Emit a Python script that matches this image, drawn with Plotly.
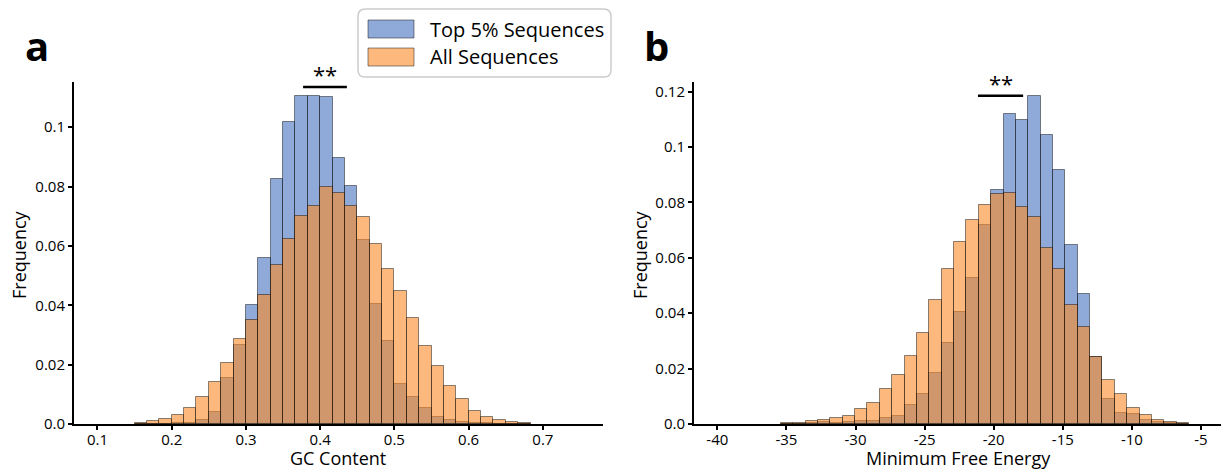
import plotly.graph_objects as go

# ---------------- data ----------------
# Panel a: GC content histogram, bins of width 1/60 starting at 0.15
gc_bin_start = 0.15
gc_bin_width = 1 / 60
gc_top5 = [0.0, 0.0, 0.0, 0.0002, 0.0005, 0.0015, 0.0039, 0.0154, 0.0265, 0.0402,
           0.056, 0.0824, 0.1016, 0.1106, 0.1105, 0.110, 0.0897, 0.0802, 0.0619, 0.0403,
           0.0281, 0.0135, 0.009, 0.0054, 0.0025, 0.0014, 0.0008, 0.0004, 0.0002, 0.0,
           0.0, 0.0]
gc_all = [0.0003, 0.0009, 0.0017, 0.003, 0.0054, 0.009, 0.014, 0.0205, 0.0287, 0.0349,
          0.0436, 0.0537, 0.0622, 0.070, 0.0736, 0.0797, 0.0777, 0.0734, 0.0696, 0.0606,
          0.0521, 0.0447, 0.0356, 0.0262, 0.0195, 0.0128, 0.0083, 0.0043, 0.0025, 0.0013,
          0.0006, 0.0002]

# Panel b: minimum free energy histogram, bins of width 0.895 starting at -35.40
mfe_bin_start = -35.40
mfe_bin_width = 0.895
mfe_top5 = [0.0, 0.0, 0.0002, 0.0007, 0.0005, 0.0006, 0.001, 0.001, 0.002, 0.003,
            0.0069, 0.0108, 0.0184, 0.0294, 0.0406, 0.0526, 0.0718, 0.0845, 0.1118, 0.1097,
            0.1185, 0.1044, 0.0916, 0.0646, 0.0469, 0.0241, 0.0091, 0.0038, 0.0036, 0.0016,
            0.0006, 0.0002, 0.0]
mfe_all = [0.0002, 0.0005, 0.001, 0.0014, 0.002, 0.003, 0.0054, 0.0075, 0.0126, 0.0178,
           0.0247, 0.0328, 0.0449, 0.056, 0.0658, 0.0736, 0.079, 0.083, 0.0834, 0.0785,
           0.0748, 0.0637, 0.056, 0.0431, 0.0352, 0.0241, 0.0159, 0.0109, 0.0056, 0.0032,
           0.0016, 0.0008, 0.0003]

series_names = ["Top 5% Sequences", "All Sequences"]

gc_xticks = [0.1, 0.2, 0.3, 0.4, 0.5, 0.6, 0.7]
gc_xticklabels = ["0.1", "0.2", "0.3", "0.4", "0.5", "0.6", "0.7"]
gc_yticks = [0.0, 0.02, 0.04, 0.06, 0.08, 0.1]
gc_yticklabels = ["0.0", "0.02", "0.04", "0.06", "0.08", "0.1"]
mfe_xticks = [-40, -35, -30, -25, -20, -15, -10, -5]
mfe_xticklabels = ["-40", "-35", "-30", "-25", "-20", "-15", "-10", "-5"]
mfe_yticks = [0.0, 0.02, 0.04, 0.06, 0.08, 0.1, 0.12]
mfe_yticklabels = ["0.0", "0.02", "0.04", "0.06", "0.08", "0.1", "0.12"]

# ---------------- styling ----------------
W, H = 1221, 471
FONT = "Open Sans"
BLUE = "rgba(68,113,190,0.6)"
ORANGE = "rgba(252,138,38,0.6)"
EDGE = "rgba(0,0,0,0.45)"

def centers(start, width, n):
    return [start + width * (i + 0.5) for i in range(n)]

fig = go.Figure()

gc_x = centers(gc_bin_start, gc_bin_width, len(gc_all))
mfe_x = centers(mfe_bin_start, mfe_bin_width, len(mfe_all))

for xs, ys, w, col, name, xa, ya in [
    (gc_x, gc_top5, gc_bin_width, BLUE, series_names[0], "x", "y"),
    (gc_x, gc_all, gc_bin_width, ORANGE, series_names[1], "x", "y"),
    (mfe_x, mfe_top5, mfe_bin_width, BLUE, series_names[0], "x2", "y2"),
    (mfe_x, mfe_all, mfe_bin_width, ORANGE, series_names[1], "x2", "y2"),
]:
    fig.add_trace(go.Bar(
        x=xs, y=ys, width=w, name=name, showlegend=False,
        marker=dict(color=col, line=dict(color=EDGE, width=1)),
        xaxis=xa, yaxis=ya,
    ))

# plot-area geometry (pixels)
ax_left, ax_right = 74, 603
bx_left, bx_right = 694, 1221
top_px, bot_px = 82, 424
mt, mb = top_px, H - bot_px
ph = bot_px - top_px

def py(pix):
    return (bot_px - pix) / ph

common_axis = dict(
    showline=True, linecolor="black", linewidth=2,
    ticks="outside", ticklen=4, tickwidth=2, tickcolor="black",
    showgrid=False, zeroline=False, automargin=False,
    tickfont=dict(family=FONT, size=15, color="black"),
)

fig.update_layout(
    width=W, height=H,
    margin=dict(l=0, r=0, t=mt, b=mb),
    plot_bgcolor="white", paper_bgcolor="white",
    barmode="overlay", bargap=0,
    font=dict(family=FONT, color="black"),
    xaxis=dict(domain=[ax_left / W, ax_right / W], range=[0.0684, 0.781],
               tickvals=gc_xticks, ticktext=gc_xticklabels, ticklabelstandoff=-3,
               anchor="y", **common_axis),
    yaxis=dict(domain=[0, 1], range=[0, 0.1152],
               tickvals=gc_yticks, ticktext=gc_yticklabels,
               anchor="x", **common_axis),
    xaxis2=dict(domain=[bx_left / W, bx_right / W], range=[-41.69, -3.55],
                tickvals=mfe_xticks, ticktext=mfe_xticklabels, ticklabelstandoff=-3,
                anchor="y2", **common_axis),
    yaxis2=dict(domain=[0, 1], range=[0, 0.1235],
                tickvals=mfe_yticks, ticktext=mfe_yticklabels,
                anchor="x2", **common_axis),
)

# axis titles
for text, xpx in [("GC Content", 338), ("Minimum Free Energy", 958)]:
    fig.add_annotation(xref="paper", yref="paper", x=xpx / W, y=py(471), text=text,
                       showarrow=False, xanchor="center", yanchor="bottom", borderpad=0,
                       font=dict(family=FONT, size=18, color="black"))
for xpx in [19, 640]:
    fig.add_annotation(xref="paper", yref="paper", x=xpx / W, y=py(255), text="Frequency",
                       showarrow=False, xanchor="center", yanchor="middle", textangle=-90,
                       font=dict(family=FONT, size=18, color="black"))

# significance markers
sig = [("x", "y", 0.377, 0.436, 0.1135), ("x2", "y2", -21.14, -17.87, 0.1185)]
for xa, ya, x0, x1, yv in sig:
    fig.add_shape(type="line", xref=xa, yref=ya, x0=x0, x1=x1, y0=yv, y1=yv,
                  line=dict(color="black", width=2.5))
    fig.add_annotation(xref=xa, yref=ya, x=(x0 + x1) / 2, y=yv, text="**",
                       showarrow=False, yanchor="bottom", yshift=-4,
                       font=dict(family=FONT, size=22, color="black"))

# panel letters
for letter, xpx in [("a", 37), ("b", 656)]:
    fig.add_annotation(xref="paper", yref="paper", x=xpx / W, y=py(45), text="<b>%s</b>" % letter,
                       showarrow=False, xanchor="center", yanchor="middle",
                       font=dict(family=FONT, size=40, color="black"))

# custom legend box (rounded rectangle)
lx0, lx1, ly0, ly1, r = 358 / W, 611 / W, py(77), py(9), 0.006
rx = r
ry = r * W / ph
fig.add_shape(type="path", xref="paper", yref="paper",
              path=(f"M {lx0+rx},{ly1} L {lx1-rx},{ly1} Q {lx1},{ly1} {lx1},{ly1-ry} "
                    f"L {lx1},{ly0+ry} Q {lx1},{ly0} {lx1-rx},{ly0} L {lx0+rx},{ly0} "
                    f"Q {lx0},{ly0} {lx0},{ly0+ry} L {lx0},{ly1-ry} Q {lx0},{ly1} {lx0+rx},{ly1} Z"),
              line=dict(color="rgb(204,204,204)", width=1.5), fillcolor="white", layer="above")
for name, col, yc in [(series_names[0], BLUE, 29), (series_names[1], ORANGE, 57)]:
    fig.add_shape(type="rect", xref="paper", yref="paper",
                  x0=368 / W, x1=414 / W, y0=py(yc + 9), y1=py(yc - 9),
                  fillcolor=col, line=dict(color=EDGE, width=1), layer="above")
    fig.add_annotation(xref="paper", yref="paper", x=428 / W, y=py(yc), text=name,
                       showarrow=False, xanchor="left", yanchor="middle",
                       font=dict(family=FONT, size=20, color="black"))

fig.write_html("out.html", config={"displayModeBar": False},
               post_script="document.body.style.margin='0';")
